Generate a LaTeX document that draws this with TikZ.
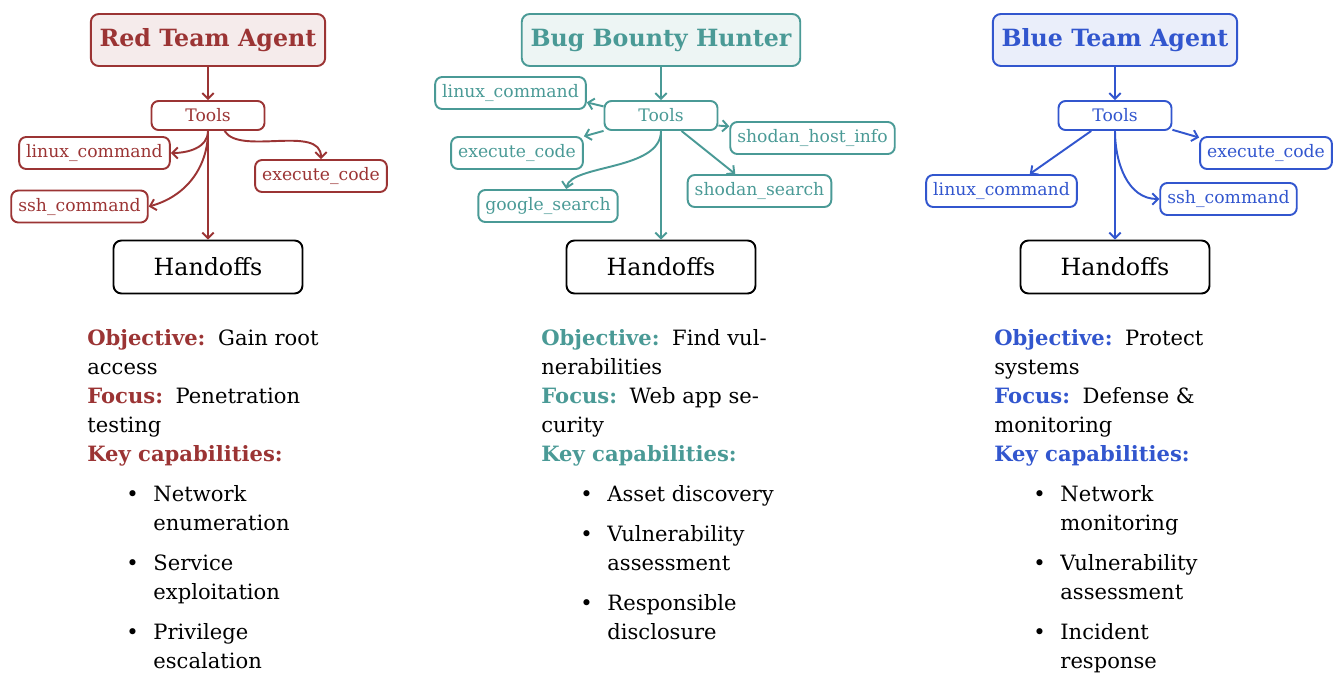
\documentclass[tikz,border=0pt]{standalone}
\usepackage{fontspec}
\setmainfont{DejaVu Serif}
\usepackage{tikz}
\usetikzlibrary{positioning, calc}
\usetikzlibrary{arrows.meta}

\definecolor{redc}{RGB}{155,52,52}
\definecolor{tealc}{RGB}{74,154,150}
\definecolor{bluec}{RGB}{50,86,206}

\newcommand{\titlefont}{\fontsize{13.5}{16}\selectfont\bfseries}
\newcommand{\toolfont}{\fontsize{9.8}{12}\selectfont}
\newcommand{\handfont}{\fontsize{13.5}{16}\selectfont}
\newcommand{\bodyfont}{\fontsize{12}{16.5}\selectfont}
\newcommand{\head}[2]{\textcolor{#1}{\textbf{#2}}\hspace{0.6em}}
\newcommand{\capitem}[1]{\hspace*{22.2pt}\makebox[15.4pt][l]{\textbullet}#1}
\newcommand{\capcont}[1]{\hspace*{37.6pt}#1}

\begin{document}
\begin{tikzpicture}[x=0.02cm, y=-0.02cm,
    agent/.style = {draw=#1, fill=#1!10, text=#1, line width=1.1pt, rounded corners=4.5pt,
                    font=\titlefont, minimum height=1.04cm, inner xsep=5pt},
    tool/.style = {draw=#1, text=#1, line width=1.1pt, rounded corners=4pt,
                   font=\toolfont, minimum height=0.64cm, inner xsep=4pt},
    tools/.style = {tool=#1, minimum width=2.26cm, minimum height=0.58cm},
    hand/.style = {draw, line width=1.1pt, rounded corners=4.5pt, font=\handfont,
                   minimum width=3.78cm, minimum height=1.06cm},
    link/.style = {-{Straight Barb[length=3.2pt, width=6.4pt]}, draw=#1, line width=1.1pt},
    info/.style = {anchor=north west, align=left, inner sep=0pt, font=\bodyfont}]
    \useasboundingbox (0,0) rectangle (1335,673);

    % red team
    \node[agent=redc] (rtitle) at (208,40) {Red Team Agent};
    \node[tools=redc] (rtools) at (208,115.5) {Tools};
    \node[tool=redc] (rlinux) at (94.5,153) {linux\_command};
    \node[tool=redc] (rssh) at (79.5,206.5) {ssh\_command};
    \node[tool=redc] (rexec) at (321,176) {execute\_code};
    \node[hand] (rhand) at (208,267) {Handoffs};
    \draw[link=redc] (rtitle) -- (rtools);
    \draw[link=redc] (rtools) -- (rhand);
    \draw[link=redc] (rtools.south) to[out=-90, in=0] (rlinux.east);
    \draw[link=redc] (rtools.south) to[out=-90, in=15] (rssh.east);
    \draw[link=redc] (rtools.-43) .. controls +(15,25) and +(0,-35) .. (rexec.north);
    \node[info] (rinfo) at (87,329) {\head{redc}{Objective:}Gain root\\ access\\
        \head{redc}{Focus:}Penetration\\ testing\\ \head{redc}{Key capabilities:}\\[6.3pt]
        \capitem{Network}\\ \capcont{enumeration}\\[6.3pt]
        \capitem{Service}\\ \capcont{exploitation}\\[6.3pt]
        \capitem{Privilege}\\ \capcont{escalation}};

    % bug bounty
    \node[agent=tealc] (ttitle) at (661,40) {Bug Bounty Hunter};
    \node[tools=tealc] (ttools) at (661,115.5) {Tools};
    \node[tool=tealc] (tlinux) at (510.5,93) {linux\_command};
    \node[tool=tealc] (texec) at (517,153) {execute\_code};
    \node[tool=tealc] (tgoogle) at (548,206) {google\_search};
    \node[tool=tealc] (thost) at (812.5,138) {shodan\_host\_info};
    \node[tool=tealc] (tsearch) at (759.5,191) {shodan\_search};
    \node[hand] (thand) at (661,267) {Handoffs};
    \draw[link=tealc] (ttitle) -- (ttools);
    \draw[link=tealc] (ttools) -- (thand);
    \draw[link=tealc] (ttools.171) -- (tlinux.-7);
    \draw[link=tealc] (ttools.195) -- (texec.14);
    \draw[link=tealc] (ttools.south) .. controls +(0,40) and +(5,-25) .. (tgoogle.43);
    \draw[link=tealc] (ttools.-37) -- (tsearch.145);
    \draw[link=tealc] (ttools.-10) -- (thost.172);
    \node[info] (tinfo) at (541,329) {\head{tealc}{Objective:}Find vul-\\ nerabilities\\
        \head{tealc}{Focus:}Web app se-\\ curity\\ \head{tealc}{Key capabilities:}\\[6.3pt]
        \capitem{Asset discovery}\\[6.3pt]
        \capitem{Vulnerability}\\ \capcont{assessment}\\[6.3pt]
        \capitem{Responsible}\\ \capcont{disclosure}};

    % blue team
    \node[agent=bluec] (btitle) at (1115,40) {Blue Team Agent};
    \node[tools=bluec] (btools) at (1115,115.5) {Tools};
    \node[tool=bluec] (bexec) at (1266,153) {execute\_code};
    \node[tool=bluec] (blinux) at (1001.5,191) {linux\_command};
    \node[tool=bluec] (bssh) at (1228.5,199) {ssh\_command};
    \node[hand] (bhand) at (1115,267) {Handoffs};
    \draw[link=bluec] (btitle) -- (btools);
    \draw[link=bluec] (btools) -- (bhand);
    \draw[link=bluec] (btools.-14) -- (bexec.167);
    \draw[link=bluec] (btools.213) -- (blinux.31);
    \draw[link=bluec] (btools.south) to[out=-90, in=180] (bssh.west);
    \node[info] (binfo) at (994,329) {\head{bluec}{Objective:}Protect\\ systems\\
        \head{bluec}{Focus:}Defense \&\\ monitoring\\ \head{bluec}{Key capabilities:}\\[6.3pt]
        \capitem{Network}\\ \capcont{monitoring}\\[6.3pt]
        \capitem{Vulnerability}\\ \capcont{assessment}\\[6.3pt]
        \capitem{Incident}\\ \capcont{response}};
\end{tikzpicture}
\end{document}
